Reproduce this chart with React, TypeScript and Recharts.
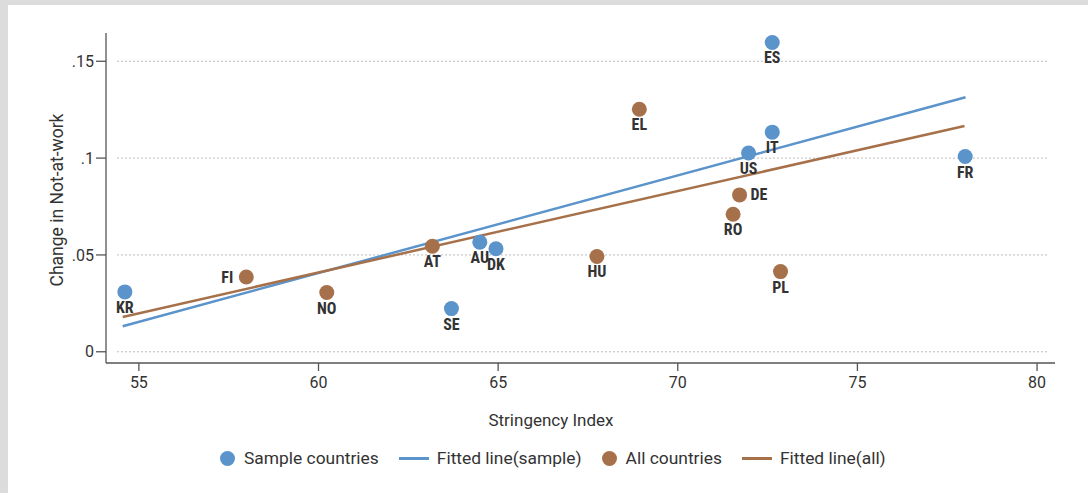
import React from 'react';
import { ScatterChart, Scatter, XAxis, YAxis, ReferenceLine } from 'recharts';

const sampleNames = ['KR', 'SE', 'AU', 'DK', 'US', 'IT', 'ES', 'FR'];
const sampleX = [54.61, 63.7, 64.49, 64.94, 71.97, 72.63, 72.63, 78.0];
const sampleY = [0.0309, 0.0223, 0.0566, 0.0532, 0.1026, 0.1134, 0.1597, 0.1008];

const allNames = ['FI', 'NO', 'AT', 'HU', 'EL', 'RO', 'DE', 'PL'];
const allX = [57.99, 60.23, 63.17, 67.75, 68.93, 71.54, 71.72, 72.86];
const allY = [0.0386, 0.0306, 0.0545, 0.0492, 0.1252, 0.071, 0.081, 0.0414];

const fitSampleX = [54.55, 78.01];
const fitSampleY = [0.0132, 0.1314];
const fitAllX = [54.55, 77.98];
const fitAllY = [0.018, 0.1166];

const xTicks = [55, 60, 65, 70, 75, 80];
const yTicks = [0, 0.05, 0.1, 0.15];
const yTickLabels = ['0', '.05', '.1', '.15'];
const gridX = [54.39, 80.28];

const labelSide: Record<string, string> = { FI: 'left', DE: 'right' };

const BLUE = '#5b93cb';
const BROWN = '#a6714a';
const TEXT = '#333333';
const LABEL_FONT = "'Roboto Condensed','Liberation Sans Narrow','DejaVu Sans Condensed',Roboto,sans-serif";

const toPoints = (names: string[] | null, xs: number[], ys: number[]) =>
  xs.map((x, i) => ({ x, y: ys[i], name: names ? names[i] : '' }));

const sampleData = toPoints(sampleNames, sampleX, sampleY);
const allData = toPoints(allNames, allX, allY);
const fitSample = toPoints(null, fitSampleX, fitSampleY);
const fitAll = toPoints(null, fitAllX, fitAllY);

const makeShape = (color: string) => (props: any) => {
  const { cx, cy, payload } = props;
  const side = labelSide[payload.name] || 'below';
  let tx = cx;
  let ty = cy + 15.5;
  let anchor: any = 'middle';
  if (side === 'left') {
    tx = cx - 13;
    ty = cy;
    anchor = 'end';
  } else if (side === 'right') {
    tx = cx + 11;
    ty = cy;
    anchor = 'start';
  }
  return (
    <g>
      <circle cx={cx} cy={cy} r={7.5} fill={color} />
      <text
        x={tx}
        y={ty}
        textAnchor={anchor}
        dominantBaseline="central"
        fontFamily={LABEL_FONT}
        fontWeight="bold"
        fontSize={16}
        fill={TEXT}
        style={{ fontStretch: 'condensed' }}
      >
        {payload.name}
      </text>
    </g>
  );
};

const emptyShape = () => <g />;

const legendItems = [
  { kind: 'dot', color: BLUE, label: 'Sample countries' },
  { kind: 'line', color: BLUE, label: 'Fitted line(sample)' },
  { kind: 'dot', color: BROWN, label: 'All countries' },
  { kind: 'line', color: BROWN, label: 'Fitted line(all)' },
];

export default function App() {
  return (
    <div
      style={{
        position: 'absolute',
        left: 0,
        top: 0,
        width: 1088,
        height: 493,
        background: '#dcdcdc',
        overflow: 'hidden',
        fontFamily: 'Roboto, sans-serif',
      }}
    >
      <div style={{ position: 'absolute', left: 8, top: 5, width: 1080, height: 488, background: '#ffffff' }} />
      <div style={{ position: 'absolute', left: 0, top: 0 }}>
        <ScatterChart width={1088} height={493} margin={{ top: 33, right: 33, left: 46, bottom: 100 }}>
          <XAxis
            type="number"
            dataKey="x"
            domain={[54.085, 80.5]}
            ticks={xTicks}
            allowDataOverflow
            height={30}
            tickSize={8}
            tickMargin={6}
            stroke="#555555"
            strokeWidth={1.3}
            tick={{ fill: TEXT, fontSize: 16, fontFamily: 'Roboto' }}
            label={{
              content: () => (
                <text x={551} y={420} textAnchor="middle" dominantBaseline="central" fontSize={17} fontFamily="Roboto" fill={TEXT}>
                  Stringency Index
                </text>
              ),
            }}
          />
          <YAxis
            type="number"
            dataKey="y"
            domain={[-0.0058, 0.1646]}
            ticks={yTicks}
            allowDataOverflow
            width={60}
            tickSize={10}
            tickMargin={2}
            stroke="#555555"
            strokeWidth={1.3}
            tickFormatter={(v: number) => yTickLabels[yTicks.indexOf(v)] ?? String(v)}
            tick={{ fill: TEXT, fontSize: 16, fontFamily: 'Roboto' }}
            label={{
              content: () => (
                <text
                  x={57}
                  y={200}
                  textAnchor="middle"
                  dominantBaseline="central"
                  fontSize={17.5}
                  fontFamily="Roboto"
                  fill={TEXT}
                  transform="rotate(-90 57 200)"
                >
                  Change in Not-at-work
                </text>
              ),
            }}
          />
          {yTicks.map((t) => (
            <ReferenceLine
              key={t}
              segment={[
                { x: gridX[0], y: t },
                { x: gridX[1], y: t },
              ]}
              stroke="#bbbbbb"
              strokeWidth={1}
              strokeDasharray="2 2"
            />
          ))}
          <Scatter
            data={fitSample}
            line={{ stroke: BLUE, strokeWidth: 2.5 }}
            shape={emptyShape}
            isAnimationActive={false}
          />
          <Scatter
            data={fitAll}
            line={{ stroke: BROWN, strokeWidth: 2.5 }}
            shape={emptyShape}
            isAnimationActive={false}
          />
          <Scatter data={sampleData} shape={makeShape(BLUE)} isAnimationActive={false} />
          <Scatter data={allData} shape={makeShape(BROWN)} isAnimationActive={false} />
        </ScatterChart>
      </div>
      <div
        style={{
          position: 'absolute',
          left: 220,
          top: 447,
          height: 22,
          display: 'flex',
          alignItems: 'center',
          fontSize: 17.4,
          color: TEXT,
          fontFamily: 'Roboto, sans-serif',
          whiteSpace: 'nowrap',
        }}
      >
        {legendItems.map((it, i) => (
          <div key={i} style={{ display: 'flex', alignItems: 'center', marginRight: 20 }}>
            {it.kind === 'dot' ? (
              <span style={{ width: 15, height: 15, borderRadius: '50%', background: it.color, marginRight: 9 }} />
            ) : (
              <span style={{ width: 30, height: 3, background: it.color, marginRight: 8 }} />
            )}
            <span>{it.label}</span>
          </div>
        ))}
      </div>
    </div>
  );
}
